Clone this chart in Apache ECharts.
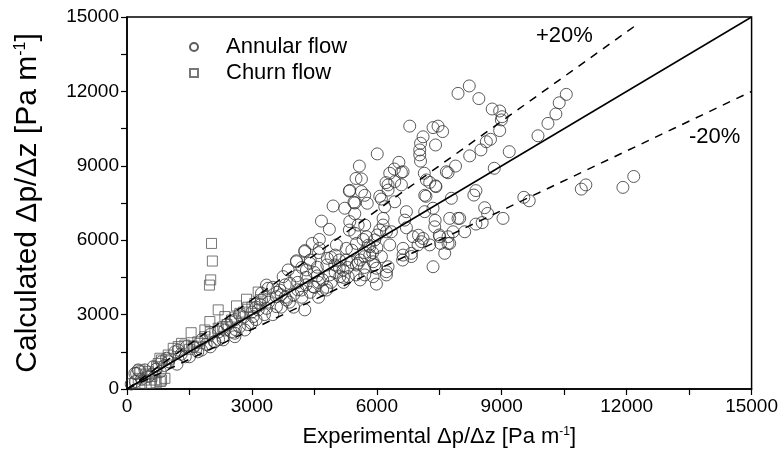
<!DOCTYPE html>
<html>
<head>
<meta charset="utf-8">
<script src="https://cdn.jsdelivr.net/npm/echarts@6/dist/echarts.min.js"></script>
<style>
  html, body { margin: 0; padding: 0; background: #fff; }
  #chart { width: 781px; height: 460px; }
</style>
</head>
<body>
<div id="chart"></div>
<script>
// axis ticks (labels drawn every 3000, ticks every 1500)
const axisMin = 0;
const axisMax = 15000;
const tickStep = 1500;
const labelStep = 3000;

// annular flow points [experimental, calculated]
const annular = [
  [10550, 11880], [10380, 11540], [10300, 11090], [10110, 10710], [9870, 10210],
  [9530, 7730], [9660, 7590], [10910, 8060], [11020, 8230], [11910, 8130], [12170, 8570],
  [8220, 12220], [7950, 11920], [8450, 11710], [8770, 11290], [8950, 11210], [9010, 10980],
  [8990, 10850], [8950, 10420], [8730, 10070], [8630, 9970], [8500, 9640], [8230, 9400],
  [7890, 8990], [9180, 9570], [8820, 8900], [8380, 8000], [8330, 7820], [7790, 7690],
  [8590, 7310], [8660, 7080], [7950, 6880], [7750, 6880], [9030, 6880], [8530, 6710],
  [8380, 6650], [8110, 6340], [7830, 6340], [7750, 5870],
  [6790, 10600], [7350, 10540], [7470, 10600], [7580, 10380], [7110, 10170], [7050, 9910],
  [7410, 9840], [7030, 9640], [6010, 9480], [7030, 9440], [7050, 9190], [7710, 8720],
  [7140, 8700], [6530, 9140], [5580, 8990], [6420, 8870], [6590, 8740], [7270, 8330],
  [7410, 8190], [5500, 8490], [5630, 8470], [6220, 8320], [6270, 8020], [5340, 7980],
  [5710, 7810], [7150, 7810], [5450, 7530], [5770, 7490], [6110, 7660], [6430, 7550],
  [4950, 7380], [5230, 7290],
  [5350, 8010], [5470, 7500], [5470, 7070], [5350, 6750], [5550, 6610], [5710, 6610],
  [4670, 6770], [4860, 6440], [5340, 6410], [5470, 6280], [5670, 6030], [4620, 6030],
  [4450, 5870], [4620, 5670], [5030, 5810], [5270, 5670], [5510, 5870], [4270, 5580],
  [4810, 5270], [4070, 5170], [4390, 5070], [5270, 5200], [5710, 5340], [5830, 5740],
  [3870, 4800], [4570, 4910], [4990, 5000], [5190, 4800], [5510, 5000], [3750, 4530],
  [4070, 4560], [4570, 4560], [4870, 4600], [5310, 4530], [5710, 4600], [5990, 4870],
  [5910, 4530],
  [6630, 8760], [6310, 8700], [6430, 8360], [6270, 8230], [6590, 8230], [7190, 8430],
  [7420, 8160], [7180, 7770], [7670, 8760], [5630, 7960], [6070, 7770], [6190, 7350],
  [6150, 6880], [6710, 7150], [6070, 6410], [6350, 6340], [7150, 7150], [7990, 6880],
  [7710, 6140], [7390, 6540], [7510, 6140], [6870, 6140], [7110, 6070], [7270, 5810],
  [6990, 5810], [6630, 5670], [6830, 5470], [6630, 5400], [6310, 5810], [6010, 6210],
  [5750, 6140], [5830, 5400], [5550, 5070], [5950, 5000], [6270, 4930], [6230, 4600],
  [5990, 4230], [7630, 5470], [7350, 4930], [5110, 4530], [4470, 4130], [4270, 3190],
  [4790, 3990],
  [6230, 4730], [6830, 5340], [6620, 5200], [7070, 5940], [7530, 5870], [7710, 5870],
  [7500, 6210], [6110, 5340], [5910, 5130], [5950, 6010], [6230, 6340], [6150, 6610],
  [6670, 6810], [7350, 7290], [6710, 6500], [7000, 6200], [7400, 6800],
  [4270, 5540], [4070, 5130], [4310, 4800], [4190, 3990], [3670, 3990], [3390, 4060],
  [3830, 3590], [3590, 3720], [3350, 3250], [3910, 4260], [3590, 3320], [3030, 2920],
  [2590, 2110], [2310, 1980], [2110, 1910], [1430, 1710], [1230, 1570], [950, 1240],
  [830, 1100], [630, 900], [310, 700], [430, 770], [230, 630], [510, 500], [270, 770],
  [190, 630], [1150, 1500], [1790, 1570], [2350, 2380], [2590, 2250], [2830, 2380],
  [2990, 2650], [3150, 3190], [3230, 3590], [3230, 3860], [3350, 4190],
  [3400, 3500], [3500, 3000], [3600, 3900], [3700, 3300], [3800, 4200], [3900, 3500],
  [4000, 3800], [4000, 3300], [3500, 4100], [4100, 4300], [4200, 3700], [4300, 4500],
  [4400, 3900], [4500, 4700], [4500, 4100], [4600, 3700], [4700, 4400], [4800, 5000],
  [4800, 4100], [4900, 4300], [5000, 4700], [4400, 5200], [4600, 5500], [4700, 4000],
  [5100, 5200], [5200, 4500], [5300, 4900], [5400, 5600], [5500, 4600], [5600, 5200],
  [5700, 4900], [5800, 5800], [5900, 5500], [6000, 5700], [5200, 4300], [5600, 4400],
  [1000, 1100], [1200, 1000], [1300, 1400], [1500, 1300], [1600, 1700], [1700, 1500],
  [1900, 1800], [2000, 2200], [2100, 1900], [2200, 2300], [2300, 2100], [2400, 2600],
  [2500, 2300], [2600, 2800], [2700, 2500], [2800, 2900], [2900, 2600], [3000, 3100],
  [3100, 2800], [3200, 3400], [3300, 3000], [2500, 2700], [2000, 1700], [1800, 2000],
  [100, 200], [200, 300], [350, 400], [600, 600], [700, 800], [800, 700], [900, 950],
  [3300, 3700], [3700, 3800], [4100, 4000], [4300, 4200], [4600, 4300], [4900, 5300],
  [5100, 4900], [5400, 5100], [5700, 5500], [3100, 3300], [2700, 3000], [2200, 2000],
  [1400, 1300], [2600, 2400], [3800, 3700], [4200, 4900], [5000, 5400]
];

// churn flow points [experimental, calculated]
const churn = [
  [2030, 5870], [2050, 5160], [2010, 4400], [1980, 4190], [1540, 2270], [2190, 3190],
  [2630, 3350], [2870, 3620], [1990, 2720], [2350, 2920], [1230, 1710], [1390, 1770],
  [1590, 1730], [1670, 1680], [1750, 1840], [1870, 2110], [830, 1170], [750, 1030],
  [310, 770], [510, 700], [270, 430], [430, 360], [670, 360], [830, 360], [910, 430],
  [190, 230], [350, 230], [550, 230], [2710, 3050], [2510, 2780], [3070, 3450],
  [2190, 2450], [1870, 2380], [1310, 1840], [1110, 1640], [990, 1370], [790, 1240],
  [710, 900], [3150, 3910], [2900, 3300], [2400, 2600], [2800, 3100], [1500, 1600],
  [600, 500], [450, 600], [800, 300], [700, 250], [1000, 1200], [1700, 1900],
  [2300, 2500], [2600, 2900], [3000, 3300], [3200, 3600], [2000, 2300]
];

// reference lines: perfect agreement and +/-20 %
const lineExact = [[0, 0], [15000, 15000]];
const linePlus20 = [[0, 0], [12200, 14640]];
const lineMinus20 = [[0, 0], [15000, 12000]];

const chart = echarts.init(document.getElementById("chart"), null, { renderer: "canvas" });
const font = "'Liberation Sans', Arial, sans-serif";

const hollow = (stroke) => ({ color: "rgba(0,0,0,0)", borderColor: stroke, borderWidth: 1 });

const axisCommon = {
  type: "value",
  min: axisMin,
  max: axisMax,
  interval: tickStep,
  nameLocation: "middle",
  axisLine: { show: true, lineStyle: { color: "#000", width: 1.5 } },
  axisTick: { show: true, inside: false, length: 6, lineStyle: { color: "#000", width: 1.2 } },
  axisLabel: {
    color: "#000",
    fontFamily: font,
    fontSize: 19,
    formatter: (v) => (v % labelStep === 0 ? String(v) : "")
  },
  splitLine: { show: false }
};

chart.setOption({
  animation: false,
  backgroundColor: "#fff",
  grid: {
    left: 127, right: 29, top: 17, bottom: 71,
    show: true, borderColor: "#000", borderWidth: 1.5, backgroundColor: "transparent"
  },
  xAxis: Object.assign({}, axisCommon, {
    name: "Experimental Δp/Δz [Pa m{sup|-1}]",
    nameGap: 37,
    nameTextStyle: {
      color: "#000", fontFamily: font, fontSize: 22,
      rich: { sup: { fontFamily: font, fontSize: 12, verticalAlign: "top", color: "#000", padding: [0, 0, 8, 0] } }
    }
  }),
  yAxis: Object.assign({}, axisCommon, {
    name: "Calculated Δp/Δz [Pa m{sup|-1}]",
    nameGap: 84,
    nameTextStyle: {
      color: "#000", fontFamily: font, fontSize: 30,
      rich: { sup: { fontFamily: font, fontSize: 16, verticalAlign: "top", color: "#000", padding: [0, 0, 12, 0] } }
    }
  }),
  legend: {
    orient: "vertical",
    left: 184,
    top: 31,
    itemWidth: 8,
    itemHeight: 8,
    itemGap: 4,
    textStyle: { color: "#000", fontFamily: font, fontSize: 22, padding: [0, 0, 0, 23] },
    data: ["Annular flow", "Churn flow"]
  },
  graphic: [
    { type: "text", left: 536, top: 25, style: { text: "+20%", font: "22px " + font, fill: "#000" } },
    { type: "text", left: 689, top: 126, style: { text: "-20%", font: "22px " + font, fill: "#000" } }
  ],
  series: [
    {
      name: "Annular flow",
      type: "scatter",
      symbol: "circle",
      symbolSize: 12,
      itemStyle: hollow("#333"),
      data: annular,
      z: 2
    },
    {
      name: "Churn flow",
      type: "scatter",
      symbol: "rect",
      symbolSize: 10,
      itemStyle: hollow("#555"),
      data: churn,
      z: 2
    },
    {
      type: "line", data: lineExact, symbol: "none", silent: true, z: 3,
      lineStyle: { color: "#000", width: 1.5, type: "solid" }
    },
    {
      type: "line", data: linePlus20, symbol: "none", silent: true, z: 3,
      lineStyle: { color: "#000", width: 1.5, type: [8, 7] }
    },
    {
      type: "line", data: lineMinus20, symbol: "none", silent: true, z: 3,
      lineStyle: { color: "#000", width: 1.5, type: [8, 7] }
    }
  ]
});
</script>
</body>
</html>
